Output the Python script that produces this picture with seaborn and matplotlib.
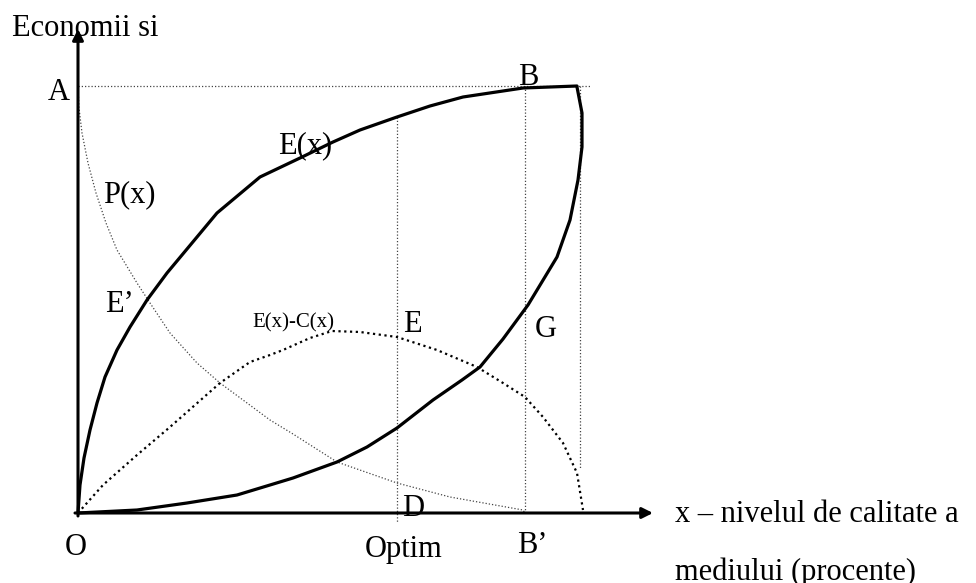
import matplotlib
matplotlib.use("Agg")
import matplotlib.pyplot as plt
import seaborn as sns

# ---- data (units: pixels from origin O) ----
ex_x = [0, 2, 6, 12, 19, 27, 39, 52, 69, 89, 99, 139, 182, 222, 255, 282, 319, 352, 385, 445, 499]
ex_y = [0, 28, 55, 83, 110, 136, 163, 186, 213, 240, 252, 300, 336, 355, 371, 383, 396, 407, 416, 425, 427]

cx_x = [0, 59, 109, 159, 192, 215, 259, 289, 319, 355, 384, 402, 425, 450, 479, 492, 500, 504, 504, 499]
cx_y = [0, 3, 10, 18, 28, 35, 51, 66, 85, 113, 133, 146, 174, 208, 256, 293, 333, 366, 400, 426]

px_x = [0, 1, 4, 10, 18, 28, 39, 59, 72, 92, 119, 142, 165, 192, 215, 259, 319, 372, 445, 447]
px_y = [426, 405, 380, 350, 320, 290, 263, 230, 210, 180, 150, 130, 113, 93, 79, 51, 30, 16, 3, 0]

ecx_x = [0, 25, 59, 92, 142, 172, 192, 205, 232, 254, 282, 319, 359, 399, 425, 447, 465, 485, 499, 505]
ecx_y = [0, 28, 58, 86, 130, 151, 158, 163, 175, 182, 181, 176, 163, 146, 130, 116, 96, 70, 40, 3]

top_level = 427          # A level
optim_x = 319
bprime_x = 447
right_x = 502

labels = ["Economii si", "A", "B", "E(x)", "P(x)", "E’", "E(x)-C(x)", "E", "G",
          "D", "O", "Optim", "B’", "x – nivelul de calitate a", "mediului (procente)"]
label_x = [-66, -30, 440, 200, 25, 27, 174, 325, 457, 324, -13, 287, 439, 597, 597]
label_y = [477, 413, 428, 360, 311, 201, 186, 181, 176, -3, -42, -44, -40, -9, -67]
label_size = [22, 22, 22, 22, 22, 22, 15, 22, 22, 22, 22, 22, 22, 22, 22]

sns.set_theme(style="white")
plt.rcParams["font.family"] = ["Liberation Serif", "DejaVu Serif"]

fig = plt.figure(figsize=(9.76, 5.83), dpi=100)
ax = fig.add_axes([0, 0, 1, 1])
ax.set_xlim(-78, 898)
ax.set_ylim(-70, 513)
ax.axis("off")

thin = dict(color="#444444", lw=0.9, linestyle=(0, (1, 1.6)))
common = dict(ax=ax, sort=False, estimator=None)

# guide lines
sns.lineplot(x=[0, 512], y=[top_level, top_level], **common, **thin)
sns.lineplot(x=[optim_x, optim_x], y=[396, -9], **common, **thin)
sns.lineplot(x=[bprime_x, bprime_x], y=[top_level, 0], **common, **thin)
sns.lineplot(x=[right_x, right_x], y=[top_level, 45], **common, **thin)

# P(x)
sns.lineplot(x=px_x, y=px_y, **common, **thin)
# E(x)-C(x)
sns.lineplot(x=ecx_x, y=ecx_y, **common, color="black", lw=1.6, linestyle=(0, (1, 1.6)))
# E(x), C(x)
sns.lineplot(x=ex_x, y=ex_y, **common, color="black", lw=2.3, solid_joinstyle="round")
sns.lineplot(x=cx_x, y=cx_y, **common, color="black", lw=2.3, solid_joinstyle="round")

# axes arrows
ax.annotate("", xy=(575, 0), xytext=(-3, 0),
            arrowprops=dict(arrowstyle="-|>", lw=2.2, color="black",
                            mutation_scale=16, shrinkA=0, shrinkB=0), zorder=5)
ax.annotate("", xy=(0, 484), xytext=(0, -3),
            arrowprops=dict(arrowstyle="-|>", lw=2.2, color="black",
                            mutation_scale=16, shrinkA=0, shrinkB=0), zorder=5)

for t, x, y, s in zip(labels, label_x, label_y, label_size):
    ax.text(x, y, t, fontsize=s, ha="left", va="baseline", color="black", zorder=2)

fig.savefig("out.png", dpi=100, facecolor="white")
